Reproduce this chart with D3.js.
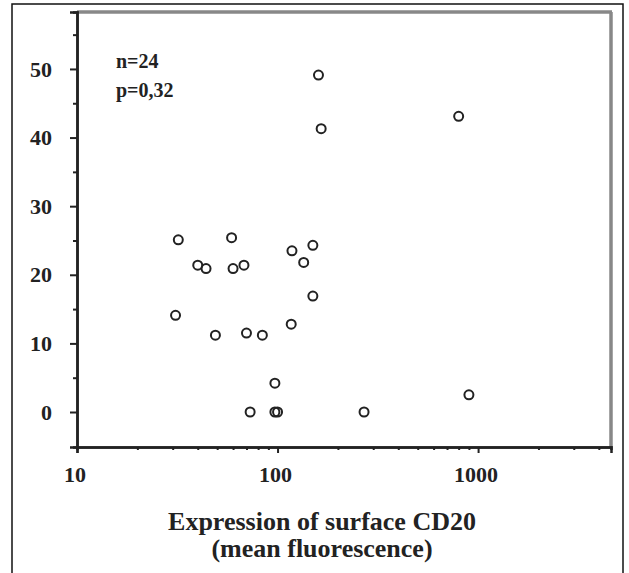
<!DOCTYPE html>
<html>
    <head>
        <script src="https://d3js.org/d3.v7.min.js"></script>
        <style>
            body { margin: 0; background: #fff; }
            text { font-family: "Liberation Serif", "DejaVu Serif", serif; font-weight: bold; fill: #222; }
        </style>
    </head>
    <body>
        <script>
            // values
            const cd20 = [160, 165, 800, 32, 59, 40, 44, 60, 68, 118, 150, 135, 150, 31, 49, 70, 84, 117, 97, 73, 97, 100, 270, 900];
            const survival = [49.1, 41.3, 43.1, 25.1, 25.4, 21.4, 20.9, 20.9, 21.4, 23.5, 24.3, 21.8, 16.9, 14.1, 11.2, 11.5, 11.2, 12.8, 4.2, 0, 0, 0, 0, 2.5];
            const xMajor = [10, 100, 1000];
            const xMinor = [20, 30, 40, 50, 60, 70, 80, 90, 200, 300, 400, 500, 600, 700, 800, 900, 2000, 3000, 4000];
            const yMajor = [0, 10, 20, 30, 40, 50];
            const yMinor = [5, 15, 25, 35, 45, 55];
            const notes = ["n=24", "p=0,32"];
            const title = ["Expression of surface CD20", "(mean fluorescence)"];

            const W = 629, H = 573;
            const mLeft = 77, mRight = 611, mTop = 12, mBottom = 447;

            let svg = d3.select("body").append("svg")
                .attr("width", W).attr("height", H);

            // outer frame of the figure
            svg.append("rect")
                .attr("x", 12).attr("y", 4)
                .attr("width", 611).attr("height", 640)
                .attr("fill", "none").attr("stroke", "#111").attr("stroke-width", 1.5);

            let x = d3.scaleLog().domain([10, 4600]).range([mLeft, mRight]);
            let y = d3.scaleLinear().domain([-5.1, 58.3]).range([mBottom, mTop]);

            // plot box: top and right edges grey, thicker
            svg.append("line").attr("x1", mLeft).attr("x2", mRight + 1).attr("y1", mTop).attr("y2", mTop)
                .attr("stroke", "#888").attr("stroke-width", 3.5);
            svg.append("line").attr("x1", mRight).attr("x2", mRight).attr("y1", mTop).attr("y2", mBottom)
                .attr("stroke", "#888").attr("stroke-width", 3.5);

            // x axis
            let gx = svg.append("g").attr("transform", `translate(0,${mBottom})`);
            gx.call(d3.axisBottom(x).tickValues(xMinor).tickSize(3).tickFormat(""));
            gx.call(g => g.append("g").call(d3.axisBottom(x).tickValues(xMajor).tickSize(6).tickFormat("")));
            gx.selectAll("path.domain").attr("stroke", "#222").attr("stroke-width", 2.5);
            gx.selectAll(".tick line").attr("stroke", "#222").attr("stroke-width", 2);

            svg.selectAll(".xlab").data(xMajor).enter().append("text")
                .attr("class", "xlab")
                .attr("x", d => x(d) - 2)
                .attr("y", 482)
                .attr("text-anchor", "middle")
                .style("font-size", "22px")
                .text(d => d);

            // y axis
            let gy = svg.append("g").attr("transform", `translate(${mLeft},0)`);
            gy.call(d3.axisLeft(y).tickValues(yMinor).tickSize(4).tickFormat(""));
            gy.call(g => g.append("g").call(d3.axisLeft(y).tickValues(yMajor).tickSize(7).tickFormat("")));
            gy.selectAll("path.domain").attr("stroke", "#222").attr("stroke-width", 2.5);
            gy.selectAll(".tick line").attr("stroke", "#222").attr("stroke-width", 2);

            svg.selectAll(".ylab").data(yMajor).enter().append("text")
                .attr("class", "ylab")
                .attr("x", 52)
                .attr("y", d => y(d))
                .attr("dy", "0.35em")
                .attr("text-anchor", "end")
                .style("font-size", "22px")
                .text(d => d);

            // n and p
            svg.selectAll(".note").data(notes).enter().append("text")
                .attr("class", "note")
                .attr("x", 116)
                .attr("y", (d, i) => 68 + i * 29)
                .style("font-size", "20px")
                .text(d => d);

            // axis title
            svg.selectAll(".title").data(title).enter().append("text")
                .attr("class", "title")
                .attr("x", 322)
                .attr("y", (d, i) => 530 + i * 27)
                .attr("text-anchor", "middle")
                .style("font-size", "26px")
                .text(d => d);

            // points
            svg.append("g").selectAll("circle")
                .data(cd20.map((v, i) => [v, survival[i]]))
                .enter().append("circle")
                .attr("cx", d => x(d[0]))
                .attr("cy", d => y(d[1]))
                .attr("r", 4.5)
                .attr("fill", "none")
                .attr("stroke", "#222")
                .attr("stroke-width", 2);
        </script>
    </body>
</html>
